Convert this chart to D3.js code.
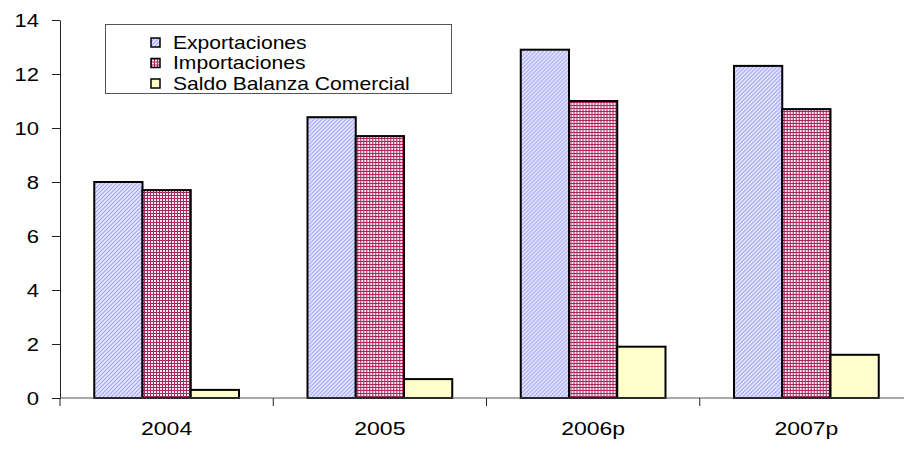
<!DOCTYPE html>
<html>
<head>
<meta charset="utf-8">
<script src="https://cdn.jsdelivr.net/npm/d3@7"></script>
<style>
  html, body { margin: 0; padding: 0; background: #fff; }
  svg { display: block; font-family: "Liberation Sans", Arial, sans-serif; }
</style>
</head>
<body>
<svg id="chart" width="904" height="450"></svg>
<script>
// Trade balance data (billions), by year
const years = ["2004", "2005", "2006p", "2007p"];
const seriesNames = ["Exportaciones", "Importaciones", "Saldo Balanza Comercial"];
const exportaciones = [8.0, 10.4, 12.9, 12.3];
const importaciones = [7.7, 9.7, 11.0, 10.7];
const saldo = [0.3, 0.7, 1.9, 1.6];
const yTicks = [0, 2, 4, 6, 8, 10, 12, 14];

const seriesValues = [exportaciones, importaciones, saldo];
const seriesFill = ["url(#patExp)", "url(#patImp)", "#ffffcc"];

const svg = d3.select("#chart");
const plot = { left: 60, right: 913, top: 20, bottom: 398 };

// Widen text glyphs horizontally by a factor
function widen(sel, factor) {
  sel.each(function () {
    const len = this.getComputedTextLength();
    d3.select(this).attr("textLength", len * factor).attr("lengthAdjust", "spacingAndGlyphs");
  });
}

// Fill patterns for the bars
const defs = svg.append("defs");
const pExp = defs.append("pattern").attr("id", "patExp")
  .attr("patternUnits", "userSpaceOnUse").attr("width", 4).attr("height", 4);
pExp.append("rect").attr("width", 4).attr("height", 4).attr("fill", "#e8e8ff");
pExp.append("path").attr("d", "M0,4 L4,0 M-1,1 L1,-1 M3,5 L5,3")
  .attr("stroke", "#a0a0ff").attr("stroke-width", 1.1);

const pImp = defs.append("pattern").attr("id", "patImp")
  .attr("patternUnits", "userSpaceOnUse").attr("width", 3).attr("height", 3);
pImp.append("rect").attr("width", 3).attr("height", 3).attr("fill", "#f6e8ee");
pImp.append("path").attr("d", "M0,0.5 H3 M0.5,0 V3")
  .attr("stroke", "#a8275e").attr("stroke-width", 1);

// Scales
const x0 = d3.scaleBand().domain(years).range([plot.left, plot.right]).paddingInner(0).paddingOuter(0);
const x1 = d3.scaleBand().domain(seriesNames).range([0, x0.bandwidth()]).paddingOuter(0.71).paddingInner(0);
const y = d3.scaleLinear().domain([0, 14]).range([plot.bottom, plot.top]);

// Bars
const groups = svg.append("g").selectAll("g").data(years).join("g")
  .attr("transform", d => `translate(${x0(d)},0)`);
groups.selectAll("rect")
  .data((d, i) => seriesNames.map((s, j) => ({ s, j, v: seriesValues[j][i] })))
  .join("rect")
  .attr("x", d => x1(d.s))
  .attr("y", d => y(d.v))
  .attr("width", x1.bandwidth())
  .attr("height", d => y(0) - y(d.v))
  .attr("fill", d => seriesFill[d.j])
  .attr("stroke", "#000")
  .attr("stroke-width", 2);

// Y axis
const yAxis = d3.axisLeft(y).tickValues(yTicks).tickSize(8).tickPadding(13).tickSizeOuter(0);
const gy = svg.append("g").attr("transform", `translate(${plot.left},0)`).call(yAxis);
gy.select(".domain").attr("stroke", "#222");
gy.selectAll(".tick line").attr("stroke", "#222");
gy.selectAll(".tick text").attr("font-size", 19).attr("fill", "#000")
  .attr("font-family", "Liberation Sans, Arial, sans-serif")
  .call(widen, 1.16);

// X axis: ticks at category boundaries, labels centred in each category
const gx = svg.append("g").attr("transform", `translate(0,${plot.bottom})`);
gx.append("line").attr("x1", plot.left).attr("x2", plot.right)
  .attr("stroke", "#555").attr("stroke-width", 1);
const boundaries = years.map(d => x0(d)).concat([x0(years[years.length - 1]) + x0.bandwidth()]);
gx.selectAll("line.tk").data(boundaries).join("line").attr("class", "tk")
  .attr("x1", d => d).attr("x2", d => d).attr("y1", 0).attr("y2", 8)
  .attr("stroke", "#222");
gx.selectAll("text").data(years).join("text")
  .attr("x", d => x0(d) + x0.bandwidth() / 2)
  .attr("y", 37)
  .attr("text-anchor", "middle")
  .attr("font-size", 19)
  .text(d => d)
  .call(widen, 1.21);

// Legend
const lg = svg.append("g");
lg.append("rect").attr("x", 105.5).attr("y", 24.5).attr("width", 346).attr("height", 69)
  .attr("fill", "#fff").attr("stroke", "#555").attr("stroke-width", 1);
const items = lg.selectAll("g.item").data(seriesNames).join("g").attr("class", "item")
  .attr("transform", (d, i) => `translate(151,${38 + i * 20.5})`);
items.append("rect").attr("width", 9).attr("height", 9)
  .attr("fill", (d, i) => seriesFill[i]).attr("stroke", "#000").attr("stroke-width", 1.5);
items.append("text").attr("x", 22).attr("y", 10.5).attr("font-size", 19).text(d => d)
  .call(widen, 1.11);
</script>
</body>
</html>
